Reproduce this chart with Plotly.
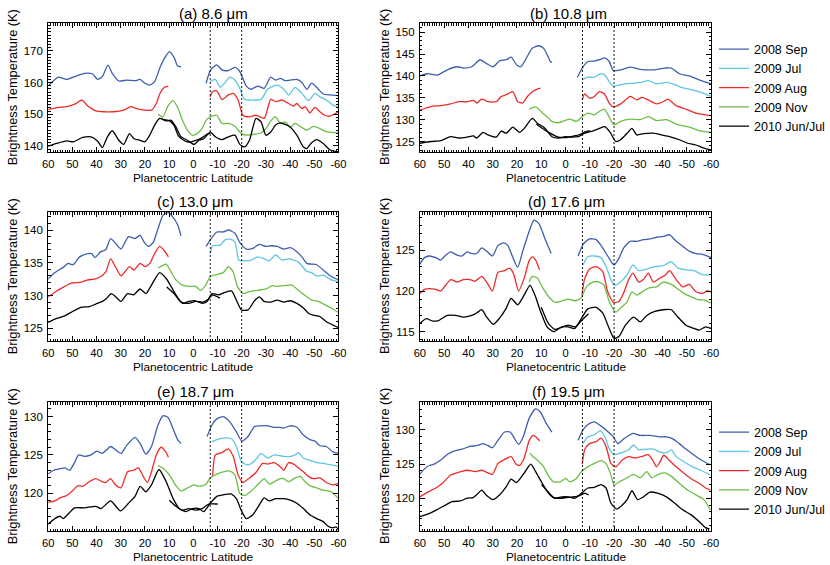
import plotly.graph_objects as go

# ---------------- data (planetocentric latitude, brightness temperature K) ----------------
SERIES_NAMES = ["2008 Sep", "2009 Jul", "2009 Aug", "2009 Nov", "2010 Jun/Jul"]
PANEL_TITLES = ["(a) 8.6 \u03bcm", "(b) 10.8 \u03bcm", "(c) 13.0 \u03bcm",
                "(d) 17.6 \u03bcm", "(e) 18.7 \u03bcm", "(f) 19.5 \u03bcm"]
X_TICKS = [60, 50, 40, 30, 20, 10, 0, -10, -20, -30, -40, -50, -60]
X_TICK_TEXT = ["60", "50", "40", "30", "20", "10", "0", "-10", "-20", "-30", "-40", "-50", "-60"]
BOUNDARY_LATS = [-7, -20]

Y_RANGES = [[138.1, 178.8], [122.6, 152.1], [123.06, 142.75],
            [113.86, 129.7], [115.08, 131.9], [115.2, 134.1]]
Y_TICKS = [[140, 150, 160, 170], [125, 130, 135, 140, 145, 150], [125, 130, 135, 140],
           [115, 120, 125], [120, 125, 130], [120, 125, 130]]

# ----- (a) 8.6 um -----
A_SEP08_N_LAT = [60, 55.8, 52.4, 49, 45, 41.6, 39.6, 37.6, 35.3, 33.5, 30.8, 27.4, 24, 22, 20, 18, 16, 13.9, 11.9, 9.9, 7.8, 6.5, 5.1]
A_SEP08_N_T = [158.9, 161.7, 161.0, 161.9, 162.9, 162.7, 161.0, 161.9, 165.5, 162.9, 160.5, 160.8, 160.6, 161.0, 159.8, 159.2, 160.3, 164.5, 167.7, 169.8, 167.7, 165.2, 165.0]
A_SEP08_S_LAT = [-5.3, -7, -9.7, -11.8, -14.5, -17.2, -19.2, -21.9, -23.9, -26.6, -29.3, -32, -34, -36, -38, -40, -42.8, -44.9, -46.9, -48.9, -51, -53.7, -56.4, -60]
A_SEP08_S_T = [159.8, 163.8, 165.6, 164.0, 163.8, 164.8, 163.5, 158.9, 157.9, 158.9, 158.2, 161.7, 160.8, 161.3, 160.6, 160.8, 161.0, 160.0, 157.9, 159.8, 158.5, 156.4, 156.1, 155.9]
A_JUL09_S_LAT = [-7, -9.1, -11.1, -13.1, -15.1, -17.2, -19.2, -21.2, -25.3, -28, -30.7, -32, -34.7, -37.4, -39.4, -42.1, -44.9, -47.6, -50.3, -52.3, -55, -57.7, -60]
A_JUL09_S_T = [160.3, 161.0, 158.5, 160.0, 161.7, 160.8, 158.2, 154.7, 154.5, 154.7, 157.9, 158.5, 159.2, 157.9, 156.1, 158.5, 156.6, 154.3, 156.6, 155.5, 154.5, 152.9, 152.4]
A_AUG09_N_LAT = [60, 55.8, 52.4, 49, 46, 43.6, 40.3, 36.9, 32.8, 28.8, 25.8, 23.4, 20, 17.3, 15.3, 13.9, 11.9, 10.3]
A_AUG09_N_T = [151.5, 152.2, 152.4, 153.2, 154.5, 152.6, 151.1, 150.8, 150.8, 151.3, 152.4, 151.8, 151.3, 151.3, 153.4, 156.4, 158.5, 158.9]
A_AUG09_S_LAT = [-7, -7.9, -9.7, -11.8, -14.5, -16.5, -18.5, -20.5, -23.2, -25.9, -29.3, -32, -34, -36.7, -39.4, -41.5, -42.8, -44.9, -46.2, -48.2, -50.3, -52.3, -54.3, -56.4, -60]
A_AUG09_S_T = [155.5, 157.1, 157.4, 154.7, 156.1, 156.6, 154.5, 149.7, 149.2, 149.7, 148.7, 154.7, 154.0, 154.5, 153.4, 152.6, 153.4, 151.8, 152.4, 150.4, 152.2, 150.8, 149.7, 149.4, 150.8]
A_NOV09_LAT = [14.6, 12.6, 10.5, 8.5, 6.5, 4.5, 2.4, 0.4, -1.6, -3.6, -5.3, -7, -9.7, -11.8, -14.5, -17.2, -19.9, -22.6, -25.3, -28, -30.7, -32, -34, -36, -38, -40, -42.1, -44.2, -46.9, -49.6, -52.3, -54.3, -56.4, -60]
A_NOV09_T = [150.0, 149.2, 152.6, 154.3, 152.2, 148.1, 145.0, 143.4, 143.9, 145.5, 148.1, 149.2, 149.7, 147.1, 147.1, 146.2, 143.9, 143.4, 143.7, 144.1, 146.2, 147.9, 149.2, 147.1, 147.6, 146.0, 147.1, 146.2, 145.0, 146.2, 145.5, 144.7, 144.4, 144.1]
A_JUN10_LAT = [60, 56.5, 52.4, 49.7, 45.7, 42.3, 39.6, 37.6, 35.5, 33.5, 30.8, 28.8, 26.4, 24.5, 22, 20, 18, 16, 13.9, 11.2, 9.2, 7.2, 5.1, 2.4, -0.3, -2.3, -4.3, -7, -9.1, -11.8, -14.5, -17.2, -19.2, -21.2, -23.2, -25.9, -28, -30, -32, -34, -36, -38, -40, -42.8, -45.5, -46.9, -48.9, -51, -53.7, -56.4, -60]
A_JUN10_T = [139.9, 140.8, 141.6, 141.3, 142.7, 142.9, 141.6, 139.5, 142.9, 144.8, 141.8, 140.5, 143.9, 142.3, 141.8, 141.3, 143.4, 146.6, 148.7, 147.9, 148.1, 146.0, 142.9, 141.8, 140.5, 141.8, 142.3, 144.4, 142.9, 142.0, 142.9, 143.4, 140.5, 139.7, 141.8, 148.7, 147.6, 143.4, 144.4, 146.6, 147.3, 146.8, 146.0, 143.4, 139.7, 139.2, 141.0, 142.0, 140.8, 138.8, 138.1]
A_JUN10_B_LAT = [13, 10, 8, 6, 4, 2, 0, -2, -4, -6, -7]
A_JUN10_B_T = [148.5, 148.0, 146.5, 143.0, 141.8, 141.2, 141.5, 142.0, 142.8, 143.8, 144.0]

# ----- (b) 10.8 um -----
B_SEP08_N_LAT = [60, 56.8, 52.7, 48.7, 44.6, 42, 38.6, 35.2, 32.5, 29.8, 27.1, 24.4, 22.4, 20.1, 18.4, 16.4, 13.7, 11, 9, 7.5, 6.3, 5.6]
B_SEP08_N_T = [140.0, 140.5, 140.2, 141.4, 142.1, 141.8, 142.1, 143.7, 142.8, 142.1, 143.5, 143.7, 144.3, 142.5, 142.1, 143.8, 146.3, 146.9, 146.3, 144.8, 143.3, 143.1]
B_SEP08_S_LAT = [-4.9, -6.9, -9.2, -11.9, -14, -16.2, -18, -19.7, -22.7, -26.7, -30.8, -36.2, -40.9, -43.6, -46.9, -51, -55, -60]
B_SEP08_S_T = [139.7, 141.8, 143.3, 143.4, 143.7, 144.1, 143.3, 141.2, 141.4, 142.0, 141.5, 141.4, 141.8, 141.8, 140.5, 140.0, 139.1, 138.2]
B_JUL09_S_LAT = [-6.9, -9.2, -11.9, -14.6, -16.2, -18, -19.7, -22.7, -26.7, -30.8, -34.1, -37.5, -41.6, -44.2, -47.6, -52.3, -56.4, -60]
B_JUL09_S_T = [139.1, 139.7, 139.7, 140.5, 140.2, 138.7, 137.7, 138.0, 138.3, 138.5, 138.9, 138.2, 138.5, 138.2, 137.4, 136.8, 136.1, 135.3]
B_AUG09_N_LAT = [60, 55.4, 51.4, 47.3, 44, 40.6, 37.9, 36.6, 34.5, 31.9, 28.5, 26.5, 24.4, 21.7, 19.7, 17.7, 15.7, 13.7, 11.6, 10.3]
B_AUG09_N_T = [132.2, 133.0, 133.2, 133.6, 134.1, 134.1, 134.4, 133.8, 134.7, 134.1, 134.1, 135.3, 135.7, 136.4, 134.1, 133.8, 135.3, 136.4, 137.0, 137.2]
B_AUG09_S_LAT = [-6.9, -7.9, -9.9, -11.9, -14, -16, -18, -19.7, -22.7, -26.7, -29.4, -31.5, -34.1, -37.5, -40.2, -42.2, -45.6, -49.6, -53.7, -60]
B_AUG09_S_T = [134.5, 135.9, 134.9, 135.3, 136.4, 135.9, 133.8, 132.9, 133.6, 135.3, 134.5, 135.1, 134.5, 133.6, 134.1, 134.7, 133.2, 132.4, 131.5, 130.9]
B_NOV09_LAT = [15, 12.3, 9.6, 6.9, 5.6, 2.9, 0.2, -1.8, -4.5, -6.9, -9.2, -11.9, -14, -16, -18, -20, -22.7, -26.7, -30.8, -34.1, -37.5, -41.6, -45.6, -51, -55, -60]
B_NOV09_T = [132.4, 132.9, 131.6, 130.3, 129.6, 129.3, 129.8, 130.1, 129.6, 130.7, 131.5, 131.1, 131.9, 132.4, 130.6, 128.8, 129.6, 130.1, 130.0, 130.7, 129.8, 130.0, 129.0, 128.3, 127.5, 127.1]
B_JUN10_LAT = [60, 55.4, 51.4, 47.3, 44, 40.6, 37.9, 36.6, 33.9, 31.9, 28.5, 26.5, 24.4, 21.7, 19, 17, 13.7, 11.6, 8.8, 5.6, 2.9, 0.2, -2.5, -5.2, -7.9, -10.6, -14, -16.2, -18.4, -20.7, -22.7, -25.4, -27.4, -29.4, -32.1, -36.2, -39.5, -42.9, -46.9, -50.3, -53.7, -57, -60]
B_JUN10_T = [124.6, 125.0, 125.2, 126.1, 125.8, 126.0, 126.3, 125.8, 127.1, 126.5, 126.0, 127.4, 126.9, 128.3, 127.1, 128.0, 130.3, 129.2, 128.2, 126.1, 125.8, 126.1, 126.0, 126.1, 126.9, 127.3, 128.0, 128.4, 127.1, 125.0, 125.4, 126.9, 128.0, 126.5, 126.8, 126.9, 126.5, 126.1, 125.4, 124.6, 124.2, 123.5, 123.1]
B_JUN10_B_LAT = [12, 9, 6, 3, 0, -3, -6, -8, -10]
B_JUN10_B_T = [129.0, 127.8, 126.8, 126.0, 125.9, 126.2, 126.6, 127.2, 127.5]

# ----- (c) 13.0 um -----
C_SEP08_N_LAT = [60, 57.2, 53.8, 51.8, 49.7, 47, 43.6, 42, 40.7, 38.2, 36.2, 34.2, 32.2, 29.9, 26.8, 24.1, 22, 20.4, 18.6, 16.6, 14.6, 12.6, 10.5, 8.5, 6.5, 5.1]
C_SEP08_N_T = [132.5, 133.5, 134.3, 134.9, 134.7, 135.9, 136.4, 136.4, 135.8, 136.7, 137.0, 138.7, 138.0, 137.1, 139.0, 138.7, 139.2, 138.2, 137.5, 138.1, 140.2, 142.2, 142.7, 142.0, 140.8, 139.1]
C_SEP08_S_LAT = [-5.3, -7, -9.7, -12.4, -14.5, -17.2, -19.2, -21.9, -24.6, -27.3, -30, -32, -34.7, -37.4, -40.1, -42.8, -44.9, -46.9, -48.9, -51, -53.7, -57, -60]
C_SEP08_S_T = [137.5, 138.5, 139.7, 139.7, 140.0, 139.5, 138.1, 137.1, 137.2, 137.8, 137.5, 137.6, 137.5, 137.1, 137.3, 136.7, 135.9, 134.9, 134.8, 134.7, 133.9, 132.9, 132.4]
C_JUL09_S_LAT = [-7, -8, -11.1, -13.1, -15.1, -17.2, -18.8, -21.2, -23.9, -26.6, -29.3, -31.4, -34, -36.7, -39.4, -41.5, -43.5, -46.9, -48.9, -51, -53.7, -57, -60]
C_JUL09_S_T = [136.4, 137.6, 137.7, 138.5, 138.6, 138.2, 135.4, 135.3, 135.4, 135.9, 135.6, 135.3, 136.2, 135.4, 135.6, 135.4, 135.1, 133.7, 133.5, 133.0, 133.1, 132.4, 132.1]
C_AUG09_N_LAT = [60, 56.5, 53.1, 50.4, 47, 43.6, 40.9, 38.2, 36.2, 34.2, 32.2, 29.9, 27.7, 26.4, 24.5, 22, 20, 18, 16, 13.9, 11.9, 10.3]
C_AUG09_N_T = [129.8, 130.7, 131.4, 131.9, 132.0, 132.4, 132.5, 132.9, 133.6, 135.6, 134.4, 133.0, 133.9, 134.4, 133.9, 134.9, 134.4, 134.9, 136.4, 137.5, 136.8, 135.9]
C_NOV09_LAT = [14.6, 12.6, 11.2, 9.2, 7.2, 4.5, 1.8, -0.9, -3, -5, -7, -9.7, -12.4, -14.5, -16.5, -18.2, -20.5, -23.2, -26.6, -30, -32.7, -34.7, -37.4, -40.8, -43.5, -46.2, -48.9, -51.6, -54.3, -57, -60]
C_NOV09_T = [134.2, 134.6, 134.8, 133.6, 132.4, 131.6, 131.4, 131.4, 130.8, 131.5, 132.9, 133.2, 133.5, 134.4, 133.6, 131.4, 130.3, 130.6, 130.8, 131.0, 131.5, 131.4, 131.5, 131.6, 130.8, 130.0, 129.3, 129.1, 128.6, 128.1, 127.4]
C_JUN10_LAT = [60, 56.5, 53.1, 49.7, 46.4, 43, 40.3, 37.6, 35.8, 33.9, 31.5, 29.9, 27.2, 24.7, 22, 19.6, 17.3, 13.9, 11.2, 9.2, 7.2, 4.5, 1.8, -0.9, -3.6, -5.7, -7.7, -10.4, -13.1, -15.8, -17.8, -19.9, -22.6, -25.3, -27.3, -29.3, -32, -34.7, -37.4, -40.1, -42.8, -45.5, -47.6, -49.6, -52.3, -55, -57.7, -60]
C_JUN10_T = [125.9, 126.5, 126.9, 127.6, 128.2, 128.3, 128.7, 129.1, 129.6, 130.3, 129.6, 129.1, 130.3, 130.1, 131.0, 130.3, 131.6, 133.5, 132.6, 131.4, 130.1, 128.8, 129.1, 129.2, 128.8, 129.1, 130.3, 130.1, 130.5, 130.7, 129.3, 127.8, 127.8, 129.2, 129.8, 129.1, 129.0, 129.3, 129.0, 129.2, 128.8, 128.1, 127.3, 127.0, 126.8, 126.0, 125.5, 125.1]
C_JUN10_B_LAT = [11, 8, 5, 2, -1, -4, -6, -8, -10, -11]
C_JUN10_B_T = [131.3, 130.3, 129.0, 128.8, 129.1, 129.0, 129.4, 130.1, 129.8, 129.6]

# ----- (d) 17.6 um -----
D_SEP08_N_LAT = [60, 58.1, 56.1, 53.4, 51.4, 49.4, 47.3, 44.6, 42.6, 40.6, 38.6, 36.6, 34.5, 32.5, 30.1, 27.8, 25.5, 23.8, 21.8, 19.7, 17.7, 15, 13, 11, 8.3, 5.9]
D_SEP08_N_T = [123.3, 124.1, 124.3, 124.1, 123.8, 124.4, 124.8, 124.4, 124.3, 124.8, 124.6, 124.6, 125.3, 124.9, 124.3, 125.6, 125.9, 125.6, 124.2, 122.9, 124.8, 127.3, 128.7, 128.3, 126.3, 124.6]
D_SEP08_S_LAT = [-5.2, -7.2, -9.9, -12.6, -15.3, -18, -20, -22, -24, -26.7, -29.4, -32.1, -34.8, -37.5, -40.2, -42.9, -45.6, -48.3, -51, -53.7, -56.4, -60]
D_SEP08_S_T = [124.3, 125.7, 126.4, 126.3, 125.3, 124.0, 123.2, 124.0, 125.3, 126.1, 126.1, 126.3, 126.4, 126.6, 126.7, 126.9, 126.1, 125.5, 124.9, 124.6, 124.5, 124.1]
D_JUL09_S_LAT = [-7.2, -9.2, -11.9, -14.6, -16.7, -18.7, -20.3, -22.7, -25.4, -27.8, -30.1, -33.5, -36.8, -40.2, -43.6, -46.3, -49.6, -53, -56.4, -60]
D_JUL09_S_T = [123.2, 124.2, 124.3, 124.1, 123.0, 121.4, 120.7, 121.1, 122.0, 123.2, 122.5, 122.7, 123.0, 123.1, 123.6, 122.8, 122.6, 122.5, 122.0, 122.0]
D_AUG09_N_LAT = [60, 58.1, 56.1, 53.4, 51.4, 49.4, 47.3, 44.6, 42, 39.3, 37.2, 34.5, 32.5, 30.1, 27.8, 25.1, 23.1, 21.5, 19.3, 17, 15, 13.7, 12.3, 10.7]
D_AUG09_N_T = [119.7, 120.2, 120.3, 120.2, 120.0, 120.7, 121.4, 121.1, 121.4, 121.4, 121.2, 121.8, 121.1, 120.0, 122.3, 122.5, 122.8, 122.2, 120.0, 121.6, 123.7, 124.2, 123.8, 122.6]
D_AUG09_S_LAT = [-6.8, -7.8, -9.9, -12.6, -15.3, -17.4, -19.8, -22, -24, -26, -27.8, -30.1, -32.1, -34.1, -36.2, -38.9, -40.9, -42.9, -45.6, -48.3, -51, -53.7, -56.4, -58.4, -60]
D_AUG09_S_T = [119.5, 121.4, 122.7, 123.0, 122.4, 119.9, 118.6, 118.7, 119.8, 121.4, 122.2, 121.1, 121.4, 122.2, 121.1, 121.6, 121.9, 122.5, 121.4, 120.5, 120.8, 119.9, 119.7, 120.0, 119.9]
D_NOV09_LAT = [15, 13.7, 11.6, 9.6, 6.9, 4.2, 1.5, -1.1, -3.8, -6.3, -8.6, -11.2, -13.9, -15.9, -18, -20.7, -22.7, -25.4, -27.4, -29.4, -32.1, -34.8, -37.5, -40.2, -42.9, -45.6, -48.3, -51.6, -55, -57, -60]
D_NOV09_T = [121.1, 121.8, 121.6, 120.5, 119.3, 118.6, 118.8, 119.0, 118.8, 119.1, 120.5, 121.1, 121.1, 120.7, 118.7, 117.4, 117.9, 118.7, 119.9, 119.5, 120.0, 120.4, 120.5, 121.1, 120.9, 120.4, 119.8, 119.3, 118.9, 118.9, 118.5]
D_JUN10_LAT = [60, 57.4, 54.7, 52.1, 48.7, 45.3, 42, 38.6, 36.6, 34.5, 32.5, 29.8, 27.1, 24.4, 22.4, 19.7, 17.4, 14.6, 12.6, 10.3, 7.6, 4.9, 1.5, -1.1, -3.8, -6.5, -9.2, -12.6, -15.3, -18, -20, -22, -24.7, -28.1, -30.8, -33.5, -36.8, -40.2, -43.6, -46.3, -49.6, -53, -55, -57.7, -60]
D_JUN10_T = [116.0, 116.6, 116.3, 116.4, 117.0, 117.0, 116.8, 117.0, 117.3, 117.7, 116.8, 115.9, 116.7, 117.9, 119.1, 118.3, 119.3, 120.7, 119.5, 117.5, 115.6, 115.0, 115.6, 115.6, 115.4, 116.6, 117.8, 118.0, 117.3, 115.4, 114.2, 114.4, 115.8, 116.8, 116.2, 117.0, 117.5, 117.7, 117.7, 116.8, 115.8, 115.4, 115.2, 115.6, 115.4]
D_JUN10_B_LAT = [10, 7, 4.5, 2, -1, -4, -7, -9.5]
D_JUN10_B_T = [118.0, 116.0, 115.3, 115.5, 115.8, 115.6, 116.5, 117.2]

# ----- (e) 18.7 um -----
E_SEP08_N_LAT = [60, 57.8, 55.1, 53.1, 51.1, 49.1, 47.4, 45, 42.3, 39.9, 37.6, 34.2, 31.5, 29.9, 27.4, 24.1, 22, 19.6, 17.3, 14.6, 12.6, 10.5, 8.5, 6.5, 5.1]
E_SEP08_N_T = [122.5, 123.0, 123.2, 123.3, 123.0, 124.0, 125.0, 124.8, 125.0, 125.5, 125.2, 126.1, 125.5, 125.2, 126.3, 127.3, 126.5, 125.1, 126.1, 128.9, 130.1, 129.9, 128.5, 127.0, 126.5]
E_SEP08_S_LAT = [-5.7, -7.7, -9.7, -12.4, -15.1, -17.8, -20.1, -22.6, -25.3, -28, -30.7, -33.4, -35.8, -37.4, -40.1, -42.8, -45.5, -48.2, -50.3, -52.3, -55, -57.7, -60]
E_SEP08_S_T = [127.4, 128.9, 129.7, 130.0, 129.3, 128.0, 126.8, 127.4, 128.7, 128.8, 128.8, 128.6, 128.6, 128.5, 128.8, 128.6, 127.6, 127.0, 126.8, 126.2, 126.1, 125.4, 125.2]
E_JUL09_S_LAT = [-7.7, -9.7, -12.4, -15.8, -17.8, -19.9, -22.6, -25.3, -28, -30.7, -33.4, -35.8, -37.4, -40.1, -42.1, -43.5, -45.5, -48.2, -51, -53.7, -57, -60]
E_JUL09_S_T = [126.7, 127.0, 127.2, 127.1, 126.1, 124.1, 123.7, 124.2, 125.2, 124.6, 125.0, 124.9, 124.8, 124.8, 125.0, 125.3, 124.6, 124.3, 124.0, 123.9, 123.7, 123.5]
E_AUG09_N_LAT = [60, 57.2, 55.1, 52.4, 49.7, 47.7, 45.7, 43, 40.3, 38.2, 36.2, 34.2, 32.2, 29.9, 27.2, 24.7, 22.7, 20.7, 19, 17.3, 15.3, 13.3, 11.2, 10.3]
E_AUG09_N_T = [118.8, 119.0, 119.4, 119.7, 120.4, 121.0, 120.9, 121.5, 121.9, 121.6, 121.4, 121.9, 121.1, 120.7, 122.8, 123.0, 123.3, 122.2, 121.4, 122.8, 125.0, 126.0, 125.3, 124.7]
E_AUG09_S_LAT = [-8, -9.1, -11.8, -14.5, -16.5, -18.5, -20.5, -23.2, -25.9, -28.6, -30.7, -33.4, -35.8, -37.4, -39.4, -41.5, -43.5, -45.5, -47.6, -49.6, -52.3, -55, -57.7, -60]
E_AUG09_S_T = [122.2, 125.0, 125.3, 125.8, 124.8, 122.4, 121.4, 122.0, 122.7, 123.9, 123.8, 124.0, 123.5, 123.0, 124.0, 123.8, 123.3, 122.8, 122.2, 121.9, 122.0, 121.4, 121.1, 121.3]
E_NOV09_LAT = [14.6, 12.6, 9.9, 7.2, 5.1, 2.4, -0.3, -2.3, -5, -7, -9.7, -12.4, -15.1, -17.2, -19.2, -21.2, -23.9, -26.6, -29.3, -31.4, -34, -36, -37.4, -39.4, -42.1, -44.2, -46.2, -48.2, -51, -53.7, -57, -60]
E_NOV09_T = [123.6, 123.3, 122.4, 121.0, 120.3, 120.7, 121.1, 120.9, 121.1, 122.0, 122.5, 122.8, 122.9, 122.4, 120.0, 119.7, 120.3, 121.1, 121.9, 121.2, 121.6, 121.9, 121.9, 121.5, 122.0, 122.2, 121.5, 121.0, 120.7, 120.4, 120.2, 119.3]
E_JUN10_LAT = [60, 57.2, 55.1, 53.8, 51.1, 49.1, 45, 40.3, 38.2, 34.2, 30.1, 26.8, 24.1, 22, 19.6, 17.3, 14.2, 11.2, 8.5, 5.8, 3.1, 0.4, -2.3, -4.3, -7, -9.7, -12.4, -15.8, -17.8, -19.9, -21.9, -24.6, -27.3, -29.3, -31.4, -34, -35.8, -37.4, -40.1, -42.8, -45.5, -48.2, -51, -53.7, -55.7, -57.7, -59.1, -60]
E_JUN10_T = [116.0, 116.7, 117.0, 116.7, 117.5, 118.1, 118.1, 118.3, 118.0, 119.0, 117.7, 118.7, 119.6, 120.9, 120.2, 121.1, 123.1, 121.5, 119.4, 118.0, 117.6, 118.0, 118.0, 117.6, 118.7, 119.6, 119.8, 119.9, 119.3, 117.7, 116.7, 117.2, 118.5, 119.4, 119.0, 119.3, 119.3, 119.3, 119.1, 118.7, 118.0, 117.2, 116.7, 116.3, 115.7, 115.5, 115.6, 115.2]
E_JUN10_B_LAT = [9.9, 7.2, 4.5, 1.8, -0.9, -3.6, -6.4, -9.1, -10.1]
E_JUN10_B_T = [119.1, 118.3, 117.8, 118.0, 117.8, 118.0, 118.6, 118.6, 118.6]

# ----- (f) 19.5 um -----
F_SEP08_N_LAT = [60, 58.1, 56.1, 54.1, 51.4, 48.7, 46, 42.6, 39.3, 36.6, 33.9, 31.9, 30.1, 27.8, 25.1, 22.8, 21.1, 19.3, 17.4, 15, 12.3, 10.3, 8, 5.6]
F_SEP08_N_T = [123.5, 124.3, 124.8, 125.0, 125.6, 126.4, 126.9, 127.2, 127.6, 127.7, 128.0, 127.7, 127.4, 128.5, 129.7, 129.7, 128.8, 127.9, 129.0, 131.7, 133.1, 132.6, 131.0, 129.7]
F_SEP08_S_LAT = [-5.2, -7.2, -9.2, -11.9, -14.6, -17.3, -19.7, -21.6, -24, -27.8, -30.8, -34.8, -38.9, -41.6, -44.2, -46.9, -49.6, -53, -56.4, -59.7]
F_SEP08_S_T = [128.5, 130.0, 130.8, 131.2, 130.6, 129.8, 129.0, 128.0, 128.7, 129.5, 129.2, 129.2, 129.0, 129.0, 128.7, 128.0, 127.2, 126.3, 125.5, 124.9]
F_JUL09_S_LAT = [-7.2, -9.2, -11.9, -14.3, -16.2, -18, -20, -23.4, -26, -28.1, -30.1, -33.5, -36.2, -39.5, -41.8, -43.6, -45.6, -49, -52.3, -55.7, -59.7]
F_JUL09_S_T = [128.0, 129.0, 129.3, 129.9, 129.0, 127.3, 126.4, 126.7, 127.1, 127.8, 127.1, 127.2, 127.2, 126.7, 126.7, 127.1, 126.1, 125.3, 124.6, 124.1, 123.4]
F_AUG09_N_LAT = [60, 56.8, 53.4, 50.7, 47.3, 44, 40.6, 37.2, 34.5, 32.5, 30.1, 27.8, 25.5, 22.4, 20.4, 19, 17, 15, 13.3, 11.6, 10.6]
F_AUG09_N_T = [120.2, 120.9, 121.5, 122.2, 123.4, 123.8, 124.1, 123.9, 124.1, 123.8, 123.5, 125.1, 125.6, 126.1, 125.0, 124.8, 125.9, 128.4, 129.2, 128.8, 128.4]
F_AUG09_S_LAT = [-6.9, -7.9, -9.9, -12.6, -14.6, -16.7, -18.7, -20.7, -23.4, -26, -28.8, -31.4, -34.1, -36.2, -37.5, -38.9, -40.5, -42.9, -45.6, -48.3, -51.6, -55, -57.7, -59.7]
F_AUG09_S_T = [125.0, 127.1, 128.0, 128.3, 128.8, 127.6, 125.1, 124.6, 125.6, 126.1, 125.9, 126.1, 126.4, 125.4, 124.6, 125.3, 126.3, 125.5, 124.6, 123.8, 122.9, 122.2, 121.5, 121.2]
F_NOV09_LAT = [14.7, 13.7, 11.6, 9, 6.9, 4.9, 2.2, -0.1, -1.8, -4.5, -6.5, -9.2, -11.9, -14.6, -16.7, -18.7, -20, -22.7, -25.4, -28.1, -30.8, -33.5, -35.5, -38.2, -40.9, -43.6, -46.9, -50.3, -53.7, -57, -59.7]
F_NOV09_T = [126.6, 126.2, 125.6, 124.6, 123.2, 122.4, 122.4, 122.9, 122.4, 122.9, 123.9, 124.6, 125.1, 125.5, 125.1, 123.4, 122.0, 122.5, 123.0, 123.5, 123.0, 123.9, 123.0, 123.5, 123.7, 123.2, 122.2, 121.2, 120.5, 119.8, 118.3]
F_JUN10_LAT = [60, 57.4, 54.7, 52.1, 49.4, 46.7, 43.3, 40.6, 38, 36.6, 34.5, 32.5, 29.8, 27.1, 24.4, 22.4, 20.2, 17, 14.3, 12.3, 9.6, 6.9, 4.2, 1.5, -1.1, -3.8, -6.5, -9.2, -11.9, -14.6, -16.7, -18.7, -21.1, -23.4, -25.4, -27.4, -29.7, -32.1, -34.8, -38.2, -41.6, -44.9, -48.3, -51.6, -55, -57.7, -59.3]
F_JUN10_T = [117.3, 117.6, 118.0, 118.5, 119.0, 119.5, 119.6, 120.0, 120.1, 120.5, 121.2, 120.4, 119.8, 120.5, 121.7, 122.8, 122.3, 123.7, 125.0, 123.9, 122.2, 120.7, 120.0, 120.2, 120.2, 120.0, 120.7, 121.5, 121.6, 122.0, 121.5, 119.3, 118.4, 119.0, 119.8, 121.1, 119.8, 120.2, 120.9, 120.7, 120.2, 119.3, 118.3, 117.6, 116.6, 115.7, 115.5]
F_JUN10_B_LAT = [9.9, 7.6, 4.9, 2.2, -0.4, -3.1, -5.8, -7.9, -9.5]
F_JUN10_B_T = [122.0, 121.1, 120.1, 120.0, 120.1, 120.2, 120.4, 120.7, 120.5]

# ---------------- assembly ----------------
PANEL_SEGMENTS = [
    [[(A_SEP08_N_LAT, A_SEP08_N_T), (A_SEP08_S_LAT, A_SEP08_S_T)], [(A_JUL09_S_LAT, A_JUL09_S_T)],
     [(A_AUG09_N_LAT, A_AUG09_N_T), (A_AUG09_S_LAT, A_AUG09_S_T)], [(A_NOV09_LAT, A_NOV09_T)],
     [(A_JUN10_LAT, A_JUN10_T), (A_JUN10_B_LAT, A_JUN10_B_T)]],
    [[(B_SEP08_N_LAT, B_SEP08_N_T), (B_SEP08_S_LAT, B_SEP08_S_T)], [(B_JUL09_S_LAT, B_JUL09_S_T)],
     [(B_AUG09_N_LAT, B_AUG09_N_T), (B_AUG09_S_LAT, B_AUG09_S_T)], [(B_NOV09_LAT, B_NOV09_T)],
     [(B_JUN10_LAT, B_JUN10_T), (B_JUN10_B_LAT, B_JUN10_B_T)]],
    [[(C_SEP08_N_LAT, C_SEP08_N_T), (C_SEP08_S_LAT, C_SEP08_S_T)], [(C_JUL09_S_LAT, C_JUL09_S_T)],
     [(C_AUG09_N_LAT, C_AUG09_N_T)], [(C_NOV09_LAT, C_NOV09_T)],
     [(C_JUN10_LAT, C_JUN10_T), (C_JUN10_B_LAT, C_JUN10_B_T)]],
    [[(D_SEP08_N_LAT, D_SEP08_N_T), (D_SEP08_S_LAT, D_SEP08_S_T)], [(D_JUL09_S_LAT, D_JUL09_S_T)],
     [(D_AUG09_N_LAT, D_AUG09_N_T), (D_AUG09_S_LAT, D_AUG09_S_T)], [(D_NOV09_LAT, D_NOV09_T)],
     [(D_JUN10_LAT, D_JUN10_T), (D_JUN10_B_LAT, D_JUN10_B_T)]],
    [[(E_SEP08_N_LAT, E_SEP08_N_T), (E_SEP08_S_LAT, E_SEP08_S_T)], [(E_JUL09_S_LAT, E_JUL09_S_T)],
     [(E_AUG09_N_LAT, E_AUG09_N_T), (E_AUG09_S_LAT, E_AUG09_S_T)], [(E_NOV09_LAT, E_NOV09_T)],
     [(E_JUN10_LAT, E_JUN10_T), (E_JUN10_B_LAT, E_JUN10_B_T)]],
    [[(F_SEP08_N_LAT, F_SEP08_N_T), (F_SEP08_S_LAT, F_SEP08_S_T)], [(F_JUL09_S_LAT, F_JUL09_S_T)],
     [(F_AUG09_N_LAT, F_AUG09_N_T), (F_AUG09_S_LAT, F_AUG09_S_T)], [(F_NOV09_LAT, F_NOV09_T)],
     [(F_JUN10_LAT, F_JUN10_T), (F_JUN10_B_LAT, F_JUN10_B_T)]],
]

for p, panel in enumerate(PANEL_SEGMENTS):
    for s, segs in enumerate(panel):
        for lat, t in segs:
            if len(lat) != len(t):
                raise ValueError(f"length mismatch panel {p} series {s}: {len(lat)} vs {len(t)}")

# ---------------- styling ----------------
COLORS = ["#3D5EAD", "#5EC6E4", "#EE2B2B", "#6BBE45", "#000000"]
FONT = "Liberation Sans, Arial, Helvetica, sans-serif"
W, H = 830, 565
COL_X = [(43, 339), (422, 719)]
ROW_Y = [(23, 152), (212, 341), (402, 531)]
TITLE_POS = [(212, 13), (574, 13), (193, 201), (572, 201), (193, 391), (574, 391)]
LEGEND_PANELS = {1: "legend", 5: "legend2"}

fig = go.Figure()

for p, panel in enumerate(PANEL_SEGMENTS):
    suffix = "" if p == 0 else str(p + 1)
    for s, segs in enumerate(panel):
        for k, (lat, t) in enumerate(segs):
            show = (p in LEGEND_PANELS) and k == 0
            kw = dict(legend=LEGEND_PANELS[p]) if p in LEGEND_PANELS else {}
            fig.add_trace(go.Scatter(
                x=lat, y=t, mode="lines", name=SERIES_NAMES[s],
                line=dict(color=COLORS[s], width=1.3, shape="spline", smoothing=0.6),
                xaxis="x" + suffix, yaxis="y" + suffix,
                showlegend=show, legendgroup=f"{p}_{s}", hoverinfo="skip", **kw))

layout = dict(
    width=W, height=H, margin=dict(l=0, r=0, t=0, b=0),
    paper_bgcolor="white", plot_bgcolor="white",
    font=dict(family=FONT, size=12, color="black"),
    shapes=[], annotations=[],
)

for p in range(6):
    col, row = p % 2, p // 2
    x0, x1 = COL_X[col]
    y0, y1 = ROW_Y[row]
    suffix = "" if p == 0 else str(p + 1)
    layout["xaxis" + suffix] = dict(
        domain=[x0 / W, x1 / W], anchor="y" + suffix, range=[60, -60],
        tickmode="array", tickvals=X_TICKS, ticktext=X_TICK_TEXT,
        ticks="inside", ticklen=5, tickwidth=1, tickcolor="black",
        minor=dict(ticks="inside", ticklen=2.5, tickwidth=1, tickcolor="black",
                   tickmode="linear", tick0=0, dtick=1),
        showline=True, linecolor="black", linewidth=1, mirror="allticks",
        showgrid=False, zeroline=False, ticklabelstandoff=2,
        tickfont=dict(family=FONT, size=11.2, color="black"))
    layout["yaxis" + suffix] = dict(
        domain=[1 - y1 / H, 1 - y0 / H], anchor="x" + suffix, range=Y_RANGES[p],
        tickmode="array", tickvals=Y_TICKS[p],
        ticks="inside", ticklen=5, tickwidth=1, tickcolor="black",
        minor=dict(ticks="inside", ticklen=2.5, tickwidth=1, tickcolor="black",
                   tickmode="linear", tick0=0, dtick=1),
        showline=True, linecolor="black", linewidth=1, mirror="allticks",
        showgrid=False, zeroline=False, ticklabelstandoff=2,
        tickfont=dict(family=FONT, size=11.5, color="black"))
    for b in BOUNDARY_LATS:
        layout["shapes"].append(dict(
            type="line", xref="x" + suffix, yref="y" + suffix + " domain",
            x0=b, x1=b, y0=0, y1=1, line=dict(color="black", width=0.9, dash="2px,2px")))
    tx, ty = TITLE_POS[p]
    layout["annotations"].append(dict(
        text=PANEL_TITLES[p], xref="paper", yref="paper", x=tx / W, y=1 - ty / H,
        xanchor="center", yanchor="middle", showarrow=False,
        font=dict(family=FONT, size=15, color="black")))
    layout["annotations"].append(dict(
        text="Planetocentric Latitude", xref="paper", yref="paper",
        x=(x0 + x1) / 2 / W, y=1 - (y1 + 26) / H,
        xanchor="center", yanchor="middle", showarrow=False,
        font=dict(family=FONT, size=11.8, color="black")))
    layout["annotations"].append(dict(
        text="Brightness Temperature (K)", xref="paper", yref="paper",
        x=(x0 - 36) / W, y=1 - (y0 + y1) / 2 / H, textangle=-90,
        xanchor="center", yanchor="middle", showarrow=False,
        font=dict(family=FONT, size=12.8, color="black")))

legend_style = dict(font=dict(family=FONT, size=12.5, color="black"),
                    bgcolor="rgba(0,0,0,0)", borderwidth=0,
                    xanchor="left", yanchor="middle", tracegroupgap=0)
layout["legend"] = dict(x=722 / W, y=1 - 88 / H, **legend_style)
layout["legend2"] = dict(x=722 / W, y=1 - 471 / H, **legend_style)

fig.update_layout(**layout)
fig.write_html("out.html", config={"displayModeBar": False, "staticPlot": True},
               post_script="document.body.style.margin='0px';document.body.style.overflow='hidden';")
